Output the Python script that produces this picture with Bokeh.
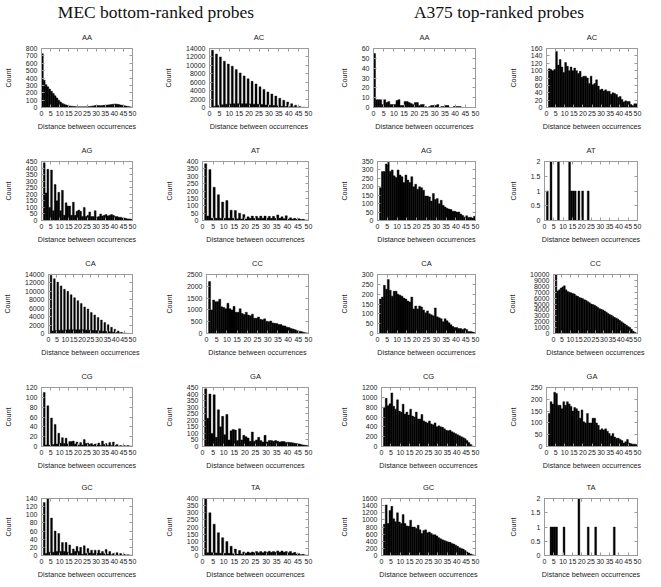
import numpy as np
from bokeh.plotting import figure
from bokeh.layouts import column, row
from bokeh.models import Div, FixedTicker, CustomJSTickFormatter, LinearAxis, Range1d
from bokeh.embed import file_html
from bokeh.resources import INLINE

# ---------------- data ----------------
bin_edges = list(range(0, 51))          # distance bins [k, k+1), k = 0..49
x_ticks = list(range(0, 51, 5))

group_titles = ["MEC bottom-ranked probes", "A375 top-ranked probes"]
x_label = "Distance between occurrences"
y_label = "Count"

# MEC bottom-ranked probes (counts per distance bin k = 0..49)
MEC_AA = [730, 370, 310, 280, 250, 220, 190, 160, 130, 100,
          75, 55, 45, 35, 28, 22, 18, 15, 12, 10,
          10, 10, 9, 10, 10, 12, 14, 18, 22, 26,
          28, 26, 25, 28, 30, 32, 35, 38, 40, 45,
          48, 45, 40, 35, 30, 25, 20, 15, 10, 6]
MEC_AC = [0, 13600, 300, 12700, 500, 12000, 650, 11000, 750, 10300,
          850, 9800, 900, 9000, 900, 8200, 900, 7500, 900, 6800,
          850, 6200, 800, 5600, 750, 4900, 700, 4300, 600, 3700,
          550, 3200, 450, 2700, 400, 2200, 300, 1700, 250, 1300,
          200, 900, 150, 550, 100, 250, 60, 80, 30, 20]
MEC_AG = [0, 440, 210, 390, 100, 385, 75, 275, 150, 215,
          75, 230, 40, 135, 110, 110, 40, 140, 40, 70,
          80, 70, 30, 100, 30, 40, 65, 30, 30, 75,
          25, 30, 50, 35, 40, 45, 35, 40, 45, 40,
          30, 30, 25, 25, 20, 20, 15, 12, 12, 10]
MEC_AT = [0, 385, 30, 345, 15, 225, 15, 175, 15, 125,
          15, 135, 15, 70, 15, 68, 12, 50, 10, 40,
          10, 25, 15, 30, 15, 28, 15, 30, 15, 30,
          15, 28, 15, 28, 15, 38, 15, 25, 12, 32,
          10, 18, 10, 15, 8, 12, 6, 8, 4, 3]
MEC_CA = [0, 13800, 600, 13000, 700, 12200, 750, 11300, 800, 10500,
          850, 10000, 900, 9200, 900, 8500, 900, 7800, 900, 7100,
          900, 6300, 850, 5800, 800, 5000, 750, 4400, 700, 3800,
          650, 3200, 550, 2600, 500, 2100, 400, 1500, 300, 1000,
          250, 600, 150, 300, 100, 100, 50, 30, 20, 10]
MEC_CC = [0, 2200, 1000, 1420, 1350, 1350, 1450, 1130, 1100, 1050,
          1280, 1050, 1000, 1150, 900, 900, 1050, 850, 800, 900,
          780, 750, 820, 650, 650, 700, 600, 580, 620, 520,
          500, 530, 450, 430, 420, 380, 380, 330, 320, 270,
          250, 210, 190, 160, 120, 100, 80, 55, 35, 20]
MEC_CG = [0, 110, 3, 83, 3, 58, 4, 45, 5, 27,
          7, 18, 6, 17, 5, 10, 10, 11, 5, 9,
          3, 8, 3, 14, 6, 7, 4, 6, 3, 5,
          3, 7, 2, 11, 4, 6, 2, 8, 2, 9,
          2, 4, 1, 2, 1, 2, 1, 2, 1, 1]
MEC_GA = [0, 440, 215, 400, 100, 395, 70, 280, 150, 230,
          90, 245, 50, 120, 130, 125, 45, 135, 50, 85,
          75, 65, 40, 110, 40, 50, 70, 45, 35, 85,
          35, 45, 45, 40, 45, 40, 35, 38, 38, 30,
          32, 30, 28, 25, 22, 20, 16, 12, 10, 8]
MEC_GC = [0, 130, 5, 140, 8, 92, 8, 60, 10, 54,
          10, 32, 10, 32, 8, 26, 5, 16, 10, 22,
          10, 20, 3, 24, 5, 17, 6, 13, 5, 13,
          5, 13, 5, 10, 4, 15, 3, 10, 2, 5,
          1, 7, 1, 5, 1, 3, 1, 2, 1, 1]
MEC_TA = [0, 400, 20, 300, 20, 220, 18, 160, 15, 125,
          15, 98, 15, 65, 12, 45, 10, 35, 10, 25,
          15, 25, 18, 25, 20, 28, 20, 28, 20, 28,
          22, 30, 22, 28, 22, 32, 22, 32, 22, 28,
          20, 28, 15, 22, 10, 12, 5, 8, 3, 3]

# A375 top-ranked probes
A375_AA = [55, 8, 8, 8, 3, 8, 5, 6, 3, 3,
           3, 7, 8, 2, 2, 6, 6, 5, 4, 3,
           5, 5, 2, 3, 3, 1, 0, 1, 2, 2,
           2, 3, 0, 1, 1, 2, 2, 0, 0, 1,
           1, 1, 1, 0, 0, 0, 0, 0, 0, 0]
A375_AC = [0, 105, 103, 100, 103, 152, 115, 130, 110, 95,
           122, 112, 100, 110, 100, 107, 100, 92, 98, 82,
           85, 85, 80, 65, 85, 62, 65, 75, 58, 48,
           50, 45, 48, 44, 44, 36, 40, 38, 35, 28,
           30, 22, 15, 18, 16, 16, 8, 5, 10, 10]
A375_AG = [0, 195, 290, 290, 335, 345, 290, 300, 265, 255,
           300, 270, 260, 225, 270, 240, 225, 260, 200, 215,
           185, 200, 195, 180, 145, 145, 140, 115, 160, 125,
           130, 100, 120, 90, 80, 72, 68, 65, 55, 55,
           50, 50, 38, 30, 20, 28, 18, 20, 15, 25]
A375_AT = [0, 1, 0, 2, 0, 0, 0, 2, 0, 0,
           0, 0, 0, 2, 1, 1, 1, 0, 1, 0,
           1, 0, 0, 1, 0, 0, 0, 0, 0, 0,
           0, 0, 0, 0, 0, 0, 0, 0, 0, 0,
           0, 0, 0, 0, 0, 0, 0, 0, 0, 0]
A375_CA = [0, 175, 185, 245, 225, 275, 220, 190, 215, 215,
           200, 195, 190, 180, 175, 165, 160, 185, 125, 140,
           125, 140, 135, 120, 105, 115, 100, 95, 90, 130,
           85, 80, 75, 60, 75, 65, 55, 45, 35, 30,
           30, 25, 25, 20, 25, 20, 10, 10, 8, 5]
A375_CC = [0, 9900, 7200, 7400, 7700, 7900, 8100, 7400, 7100, 7000,
           6900, 6800, 6700, 6400, 6300, 6100, 6000, 5900, 5700, 5600,
           5400, 5200, 5000, 4900, 4800, 4600, 4400, 4200, 4100, 4000,
           3800, 3600, 3400, 3200, 3100, 2900, 2700, 2600, 2400, 2200,
           2000, 1800, 1600, 1400, 1200, 1000, 700, 400, 200, 50]
A375_CG = [0, 800, 980, 830, 870, 1090, 820, 760, 950, 720,
           700, 860, 660, 700, 640, 760, 620, 600, 700, 560,
           560, 650, 520, 500, 480, 520, 460, 440, 480, 400,
           420, 400, 390, 360, 330, 320, 330, 300, 280, 260,
           240, 220, 200, 180, 160, 120, 80, 40, 10, 0]
A375_GA = [0, 140, 190, 180, 230, 225, 175, 175, 160, 190,
           175, 190, 180, 170, 150, 165, 160, 150, 120, 155,
           105, 100, 140, 100, 100, 120, 120, 100, 90, 70,
           75, 70, 75, 65, 55, 45, 55, 40, 35, 35,
           30, 25, 15, 20, 30, 15, 12, 10, 10, 8]
A375_GC = [0, 880, 1420, 900, 1260, 1380, 1030, 950, 1200, 940,
           900, 1150, 900, 830, 820, 990, 800, 800, 760, 850,
           720, 620, 700, 720, 640, 660, 620, 580, 580, 550,
           500, 470, 440, 420, 400, 380, 370, 340, 320, 290,
           260, 220, 200, 180, 140, 100, 70, 40, 20, 5]
A375_TA = [0, 0, 0, 1, 1, 1, 1, 0, 0, 0,
           1, 0, 0, 0, 0, 0, 0, 0, 2, 0,
           0, 0, 0, 1, 0, 0, 0, 1, 0, 0,
           0, 0, 0, 0, 0, 0, 0, 1, 0, 0,
           0, 0, 0, 0, 0, 0, 0, 0, 0, 0]

# y-axis limits and tick steps
MEC_YMAX = {"AA": 800, "AC": 14000, "AG": 450, "AT": 400, "CA": 14000,
            "CC": 2500, "CG": 120, "GA": 450, "GC": 140, "TA": 400}
MEC_YSTEP = {"AA": 100, "AC": 2000, "AG": 50, "AT": 50, "CA": 2000,
             "CC": 500, "CG": 20, "GA": 50, "GC": 20, "TA": 50}
A375_YMAX = {"AA": 60, "AC": 160, "AG": 350, "AT": 2, "CA": 300,
             "CC": 10000, "CG": 1200, "GA": 250, "GC": 1600, "TA": 2}
A375_YSTEP = {"AA": 10, "AC": 20, "AG": 50, "AT": 0.5, "CA": 50,
              "CC": 1000, "CG": 200, "GA": 50, "GC": 200, "TA": 0.5}

MEC = {"AA": MEC_AA, "AC": MEC_AC, "AG": MEC_AG, "AT": MEC_AT, "CA": MEC_CA,
       "CC": MEC_CC, "CG": MEC_CG, "GA": MEC_GA, "GC": MEC_GC, "TA": MEC_TA}
A375 = {"AA": A375_AA, "AC": A375_AC, "AG": A375_AG, "AT": A375_AT, "CA": A375_CA,
        "CC": A375_CC, "CG": A375_CG, "GA": A375_GA, "GC": A375_GC, "TA": A375_TA}

grid_pairs = [["AA", "AC"], ["AG", "AT"], ["CA", "CC"], ["CG", "GA"], ["GC", "TA"]]

# ---------------- style / layout ----------------
GRAY = "#9b9b9b"
TXT = "#222222"
SANS = "Liberation Sans"
col_w = [161, 175, 169, 140]
col_br = [29, 28, 30, 8]
row_h = [113, 113, 113, 111, 107]
row_bt = [22, 22, 22, 22, 22]
FRAME_H = 61
HEADER_H = 14

fmt_code = "return String(tick);"


def make_panel(name, counts, ymax, ystep, w, br, h, bt):
    bb = h - bt - FRAME_H
    p = figure(width=w, height=h, x_range=Range1d(0, 50), y_range=Range1d(0, ymax),
               output_backend="svg", toolbar_location=None,
               min_border_left=0, min_border_right=br,
               min_border_top=bt, min_border_bottom=bb, title=name)
    keep = [i for i, c in enumerate(counts) if c > 0]
    p.quad(left=[bin_edges[i] for i in keep], right=[bin_edges[i + 1] for i in keep],
           bottom=0, top=[counts[i] for i in keep],
           fill_color="black", line_color="black", line_width=0.4)
    yt = [float(v) for v in np.arange(0, ymax + ystep / 2, ystep)]
    p.xaxis.ticker = FixedTicker(ticks=x_ticks)
    p.yaxis.ticker = FixedTicker(ticks=yt)
    for ax in [p.xaxis[0], p.yaxis[0]]:
        ax.formatter = CustomJSTickFormatter(code=fmt_code)
        ax.major_tick_in = 3
        ax.major_tick_out = 0
        ax.minor_tick_line_color = None
        ax.major_tick_line_color = GRAY
        ax.axis_line_color = GRAY
        ax.major_label_text_font = SANS
        ax.major_label_text_font_size = "7px"
        ax.major_label_text_color = TXT
        ax.axis_label_text_font = SANS
        ax.axis_label_text_font_size = "7.2px"
        ax.axis_label_text_font_style = "normal"
        ax.axis_label_text_color = TXT
    p.xaxis.axis_label = x_label
    p.yaxis.axis_label = y_label
    p.xaxis.major_label_standoff = 3
    p.xaxis.axis_label_standoff = 3
    p.yaxis.major_label_standoff = 4
    p.yaxis.axis_label_standoff = 10
    # mirrored ticks on top and right (labels not drawn)
    top_ax = LinearAxis(ticker=FixedTicker(ticks=x_ticks))
    right_ax = LinearAxis(ticker=FixedTicker(ticks=yt))
    for ax in (top_ax, right_ax):
        ax.major_tick_in = 3
        ax.major_tick_out = 0
        ax.minor_tick_line_color = None
        ax.major_tick_line_color = GRAY
        ax.axis_line_color = GRAY
        ax.major_label_text_color = None
        ax.major_label_text_font_size = "1px"
        ax.major_label_standoff = 0
    p.add_layout(top_ax, "above")
    p.add_layout(right_ax, "right")
    p.xgrid.visible = False
    p.ygrid.visible = False
    p.outline_line_color = GRAY
    p.title.text_font = SANS
    p.title.text_font_size = "7.5px"
    p.title.text_font_style = "normal"
    p.title.text_color = TXT
    p.title.align = "center"
    p.title.standoff = 13
    p.background_fill_color = "white"
    p.border_fill_color = "white"
    return p


rows = []
for r, (a, b) in enumerate(grid_pairs):
    specs = [(a, MEC[a], MEC_YMAX[a], MEC_YSTEP[a]),
             (b, MEC[b], MEC_YMAX[b], MEC_YSTEP[b]),
             (a, A375[a], A375_YMAX[a], A375_YSTEP[a]),
             (b, A375[b], A375_YMAX[b], A375_YSTEP[b])]
    figs = [make_panel(n, c, ym, ys, col_w[i], col_br[i], row_h[r], row_bt[r])
            for i, (n, c, ym, ys) in enumerate(specs)]
    rows.append(row(*figs))

span = ('<span style="position:absolute;left:{x}px;top:0px;transform:translateX(-50%);'
        'white-space:nowrap;font-family:\'Liberation Serif\';font-size:17.5px;'
        'line-height:14px;color:#111;">{t}</span>')
header_html = ('<div style="position:relative;width:645px;height:14px;">'
               + span.format(x=151, t=group_titles[0])
               + span.format(x=494, t=group_titles[1]) + '</div>')
header = Div(text=header_html, width=645, height=HEADER_H)

layout = column(header, *rows)

open("out.html", "w").write(file_html(layout, INLINE))
